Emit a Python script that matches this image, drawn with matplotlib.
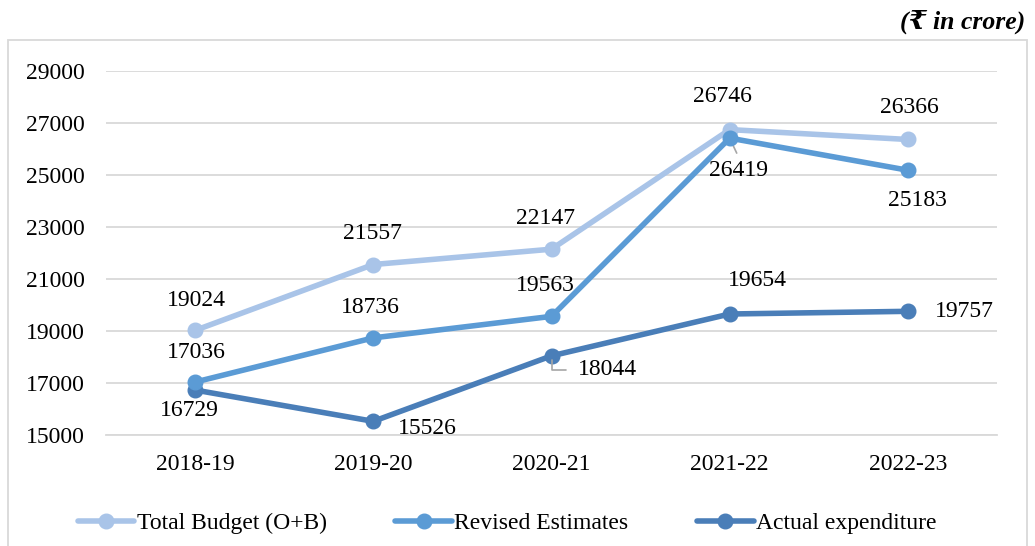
import matplotlib
matplotlib.use("Agg")
import matplotlib.pyplot as plt
from matplotlib.patches import Rectangle

years = ["2018-19", "2019-20", "2020-21", "2021-22", "2022-23"]
total_budget = [19024, 21557, 22147, 26746, 26366]
revised_estimates = [17036, 18736, 19563, 26419, 25183]
actual_expenditure = [16729, 15526, 18044, 19654, 19757]

plt.rcParams["font.family"] = ["Liberation Serif", "DejaVu Serif", "DejaVu Sans"]
FS = 17

fig = plt.figure(figsize=(10.35, 5.46), dpi=100)
ax = fig.add_axes([106 / 1035, 111 / 546, 891 / 1035, 364 / 546])

# outer chart frame
fig.patches.append(Rectangle((8 / 1035, -0.05), 1019 / 1035, (506 / 546) + 0.05,
                             transform=fig.transFigure, fill=False,
                             edgecolor="#D9D9D9", linewidth=1.3))

colors = {"total": "#A9C4E8", "revised": "#5B9BD5", "actual": "#4A7EB8"}
x = list(range(len(years)))

ax.plot(x, total_budget, color=colors["total"], lw=4, marker="o", ms=10.5,
        label="Total Budget (O+B)", zorder=3, solid_capstyle="round")
ax.plot(x, revised_estimates, color=colors["revised"], lw=4, marker="o", ms=10.5,
        label="Revised Estimates", zorder=4, solid_capstyle="round")
ax.plot(x, actual_expenditure, color=colors["actual"], lw=4, marker="o", ms=10.5,
        label="Actual expenditure", zorder=3, solid_capstyle="round")

ax.set_xlim(-0.5, 4.5)
ax.set_ylim(15000, 29000)
ax.set_yticks(range(15000, 29001, 2000))
ax.set_xticks(x)
ax.set_xticklabels(years)
ax.grid(axis="y", color="#D9D9D9", lw=1.3)
ax.set_axisbelow(True)
for s in ["top", "right", "left"]:
    ax.spines[s].set_visible(False)
ax.spines["bottom"].set_color("#D9D9D9")
ax.spines["bottom"].set_linewidth(1.3)
ax.tick_params(axis="both", length=0, labelsize=FS, colors="black")
ax.tick_params(axis="y", pad=15)
ax.tick_params(axis="x", pad=14)

# data labels: (dx, dy) in pixels, ha
def label(xi, v, dx, dy, ha="center"):
    ax.annotate(str(v), (xi, v), xytext=(dx, dy), textcoords="offset pixels",
                ha=ha, va="center", fontsize=FS, zorder=5)

label(0, total_budget[0], 1, 30)
label(1, total_budget[1], -1, 31)
label(2, total_budget[2], -6, 31)
label(3, total_budget[3], -7, 33)
label(4, total_budget[4], 1, 32)

label(0, revised_estimates[0], 1, 30)
label(1, revised_estimates[1], -3, 30)
label(2, revised_estimates[2], -6, 31)
label(3, revised_estimates[3], 9, -32)
label(4, revised_estimates[4], 10, -30)

label(0, actual_expenditure[0], -6, -20)
label(1, actual_expenditure[1], 25, -7, ha="left")
label(2, actual_expenditure[2], 26, -14, ha="left")
label(3, actual_expenditure[3], 28, 33)
label(4, actual_expenditure[4], 27, 0, ha="left")

# leader lines
ax.annotate("", (2, actual_expenditure[2]), xytext=(14, -14), textcoords="offset pixels",
            arrowprops=dict(arrowstyle="-", color="#A6A6A6", lw=1.2,
                            connectionstyle="angle,angleA=0,angleB=90,rad=0",
                            shrinkA=0, shrinkB=3))
ax.annotate("", (3, revised_estimates[3]), xytext=(7, -15), textcoords="offset pixels",
            arrowprops=dict(arrowstyle="-", color="#A6A6A6", lw=1.2,
                            shrinkA=0, shrinkB=3))

fig.text(1025 / 1035, 1 - 22 / 546, "(\u20b9 in crore)", ha="right", va="center",
         fontsize=18.5, fontweight="bold", fontstyle="italic")

fig.legend(loc="center", bbox_to_anchor=(0.49, 1 - 523 / 546), ncol=3, frameon=False,
           fontsize=FS, handlelength=2.4, handletextpad=0.1, columnspacing=2.9)

fig.savefig("out.png", dpi=100)
